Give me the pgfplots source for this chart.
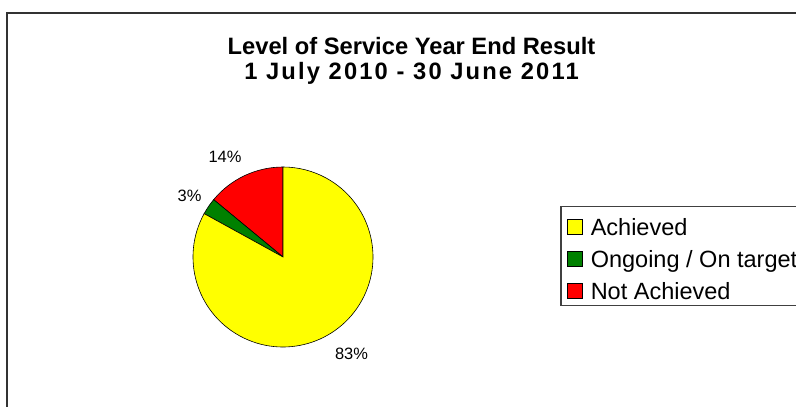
\documentclass[border=0pt]{standalone}
\usepackage{fontspec}
\setmainfont{Liberation Sans}
\usepackage{pgfplots}
\usepackage{pgfplotstable}
\pgfplotsset{compat=1.18}

\definecolor{achieved}{RGB}{255,255,0}
\definecolor{ongoing}{RGB}{0,128,0}
\definecolor{notach}{RGB}{255,0,0}

% share of the levels of service, in percent
\pgfplotstableread{
label value
Achieved 83
Ongoing 3
NotAchieved 14
}\losdata

\begin{document}
\begin{tikzpicture}
\path[use as bounding box] (0,0) rectangle (796bp,407bp);
\clip (0,0) rectangle (796bp,407bp);
\draw[line width=1.4bp, black!80] (7bp,394bp) rectangle (830bp,-30bp);

\node[font=\bfseries\fontsize{23.8}{26}\selectfont, anchor=base] at (411.5bp,352bp) {Level of Service Year End Result};
\node[font=\bfseries\fontsize{23.8}{26}\selectfont\addfontfeatures{LetterSpace=9}, anchor=base] at (411.5bp,327bp) {1 July 2010 - 30 June 2011};

% slice angles, counter-clockwise from 12 o'clock: red, green, yellow
\pgfplotstablegetelem{0}{value}\of\losdata \let\va\pgfplotsretval
\pgfplotstablegetelem{1}{value}\of\losdata \let\vb\pgfplotsretval
\pgfplotstablegetelem{2}{value}\of\losdata \let\vc\pgfplotsretval
\pgfmathsetmacro\tot{\va+\vb+\vc}
\pgfmathsetmacro\aA{90}
\pgfmathsetmacro\aB{\aA+360*\vc/\tot}
\pgfmathsetmacro\aC{\aB+360*\vb/\tot}
\pgfmathsetmacro\aD{450}

\begin{axis}[at={(283bp,150bp)}, anchor=center,
    width=180bp, height=180bp, scale only axis,
    xmin=-1, xmax=1, ymin=-1, ymax=1,
    hide axis, clip=false,
    legend image code/.code={\draw[#1, draw=black, line width=0.6bp] (0bp,-10bp) rectangle (15bp,5bp);},
    legend style={at={(2.04,0.783)}, anchor=north west,
        draw=black!75, line width=1.3bp,
        inner xsep=6.3bp, inner ysep=4bp,
        column sep=8bp, row sep=5.5bp,
        font=\fontsize{23.6}{28}\selectfont,
        nodes={inner sep=0pt, text height=24.5bp, text depth=2bp},
        cells={anchor=west}}]
  \fill[notach, draw=black, line width=0.6bp] (axis cs:0,0) -- (axis cs:{cos(\aA)},{sin(\aA)}) arc[start angle=\aA, end angle=\aB, radius=1] -- cycle;
  \fill[ongoing, draw=black, line width=0.6bp] (axis cs:0,0) -- (axis cs:{cos(\aB)},{sin(\aB)}) arc[start angle=\aB, end angle=\aC, radius=1] -- cycle;
  \fill[achieved, draw=black, line width=0.6bp] (axis cs:0,0) -- (axis cs:{cos(\aC)},{sin(\aC)}) arc[start angle=\aC, end angle=\aD, radius=1] -- cycle;

  \node[font=\fontsize{16.5}{18}\selectfont] at (axis cs:-0.644,1.111) {14\%};
  \node[font=\fontsize{16.5}{18}\selectfont] at (axis cs:-1.039,0.683) {3\%};
  \node[font=\fontsize{16.5}{18}\selectfont] at (axis cs:0.761,-1.074) {83\%};

  \addlegendimage{fill=achieved}
  \addlegendentry{Achieved}
  \addlegendimage{fill=ongoing}
  \addlegendentry{Ongoing / On target}
  \addlegendimage{fill=notach}
  \addlegendentry{Not Achieved}
\end{axis}
\end{tikzpicture}
\end{document}
